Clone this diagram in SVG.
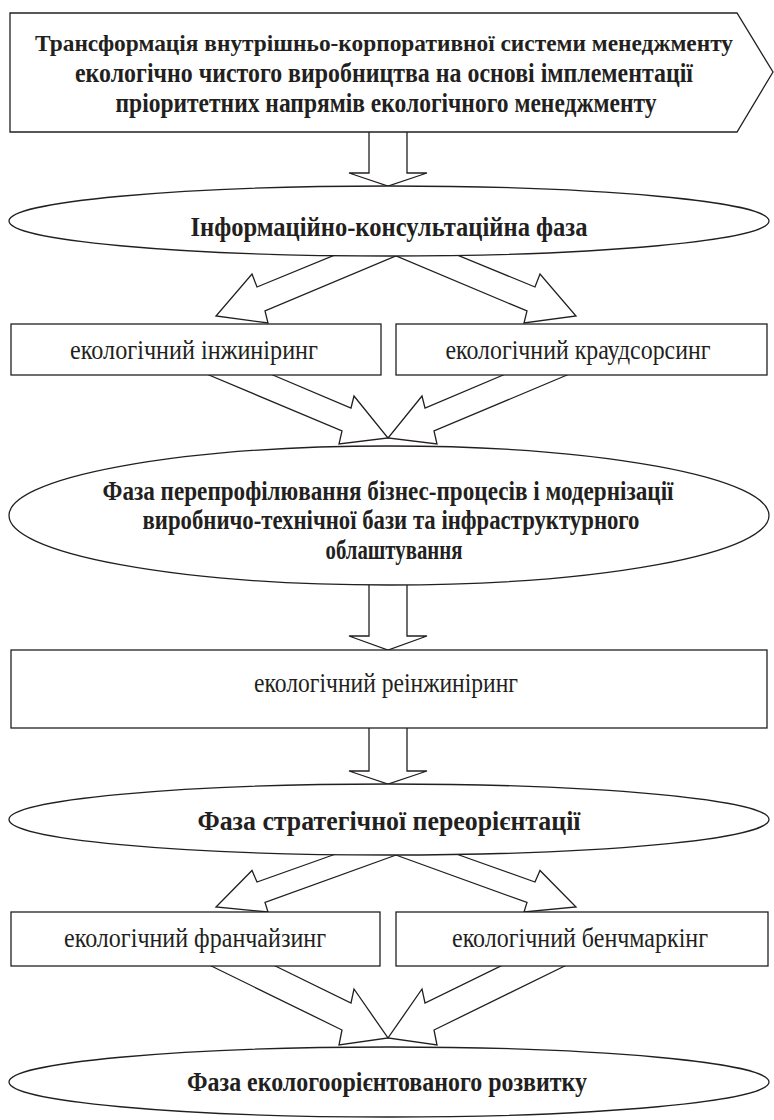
<svg xmlns="http://www.w3.org/2000/svg" width="774" height="1120" viewBox="0 0 774 1120">
<style>
.shape{fill:#fff;stroke:#231f20;stroke-width:1.3}
.conn{fill:#fff;stroke:#231f20;stroke-width:1.3;stroke-linejoin:miter}
.b{font-family:"Liberation Serif","Times New Roman",serif;font-weight:bold;font-size:27px;fill:#231f20;text-anchor:middle}
.b1{font-family:"Liberation Serif","Times New Roman",serif;font-weight:bold;font-size:24px;fill:#231f20;text-anchor:middle}
.r{font-family:"Liberation Serif","Times New Roman",serif;font-size:28px;fill:#231f20;text-anchor:middle}
</style>
<rect width="774" height="1120" fill="#fff"/>
<g id="connectors">
<polygon class="conn" points="369,128 369,173 349,173 388,186 427,173 407,173 407,128"/>
<polygon class="conn" points="347,250 257,287 252,274 216,316 268,323 265,311 410,250"/>
<polygon class="conn" points="445,250 535,287 540,274 576,316 524,323 527,311 382,250"/>
<polygon class="conn" points="261,370 351,408 354,396 388,438 339,444 342,431 197,370"/>
<polygon class="conn" points="515,370 425,408 422,396 388,438 437,444 434,431 579,370"/>
<polygon class="conn" points="369,580 369,636 349,636 388,650 427,636 407,636 407,580"/>
<polygon class="conn" points="369,724 369,771 349,771 388,784 427,771 407,771 407,724"/>
<polygon class="conn" points="347,850 257,882 252,870.5 216,907 268,912 265,902.5 410,850"/>
<polygon class="conn" points="445,850 535,882 540,870.5 576,907 524,912 527,902.5 382,850"/>
<polygon class="conn" points="261,959 351,1003 354,989 388,1038 339,1045 342,1030 197,959"/>
<polygon class="conn" points="515,959 425,1003 422,989 388,1038 437,1045 434,1030 579,959"/>
</g>
<g id="node-transform">
<polygon class="shape" points="10,13 737,13 773,72 737,132 10,132"/>
<text class="b1" x="384" y="51" textLength="698" lengthAdjust="spacingAndGlyphs">Трансформація внутрішньо-корпоративної системи менеджменту</text>
<text class="b" x="384" y="82" textLength="618" lengthAdjust="spacingAndGlyphs">екологічно чистого виробництва на основі імплементації</text>
<text class="b" x="386" y="112" textLength="541" lengthAdjust="spacingAndGlyphs">пріоритетних напрямів екологічного менеджменту</text>
</g>
<g id="node-info-phase">
<ellipse class="shape" cx="389" cy="221" rx="380" ry="35"/>
<text class="b" x="389" y="236" textLength="397" lengthAdjust="spacingAndGlyphs">Інформаційно-консультаційна фаза</text>
</g>
<g id="node-engineering">
<rect class="shape" x="11" y="324" width="370" height="51"/>
<text class="r" x="194" y="359" textLength="248" lengthAdjust="spacingAndGlyphs">екологічний інжиніринг</text>
</g>
<g id="node-crowdsourcing">
<rect class="shape" x="396" y="324" width="371" height="51"/>
<text class="r" x="578" y="359" textLength="265" lengthAdjust="spacingAndGlyphs">екологічний краудсорсинг</text>
</g>
<g id="node-reprofiling-phase">
<ellipse class="shape" cx="389" cy="515.5" rx="380" ry="69.5"/>
<text class="b" x="388" y="500" textLength="571" lengthAdjust="spacingAndGlyphs">Фаза перепрофілювання бізнес-процесів і модернізації</text>
<text class="b" x="391" y="529" textLength="497" lengthAdjust="spacingAndGlyphs">виробничо-технічної бази та інфраструктурного</text>
<text class="b" x="394" y="559" textLength="137" lengthAdjust="spacingAndGlyphs">облаштування</text>
</g>
<g id="node-reengineering">
<rect class="shape" x="11" y="650" width="756" height="78"/>
<text class="r" x="386" y="692" textLength="264" lengthAdjust="spacingAndGlyphs">екологічний реінжиніринг</text>
</g>
<g id="node-strategic-phase">
<ellipse class="shape" cx="389" cy="819.5" rx="380" ry="35.5"/>
<text class="b" x="389" y="830" textLength="383" lengthAdjust="spacingAndGlyphs">Фаза стратегічної переорієнтації</text>
</g>
<g id="node-franchising">
<rect class="shape" x="11" y="912" width="369" height="54"/>
<text class="r" x="195" y="947" textLength="262" lengthAdjust="spacingAndGlyphs">екологічний франчайзинг</text>
</g>
<g id="node-benchmarking">
<rect class="shape" x="396" y="912" width="372" height="54"/>
<text class="r" x="580" y="947" textLength="256" lengthAdjust="spacingAndGlyphs">екологічний бенчмаркінг</text>
</g>
<g id="node-eco-phase">
<ellipse class="shape" cx="389" cy="1082" rx="380" ry="35"/>
<text class="b" x="387" y="1091" textLength="400" lengthAdjust="spacingAndGlyphs">Фаза екологоорієнтованого розвитку</text>
</g>
</svg>
